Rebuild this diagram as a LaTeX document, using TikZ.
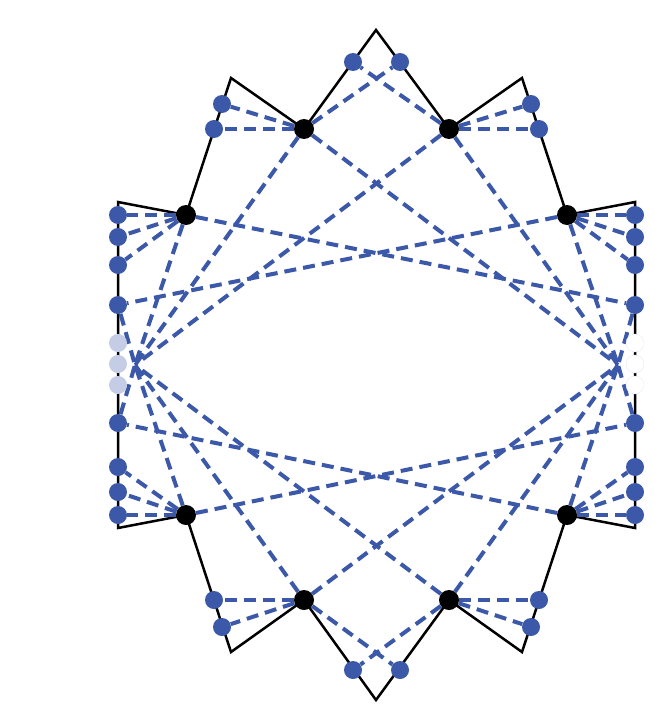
\documentclass[tikz,border=0pt]{standalone}
\usetikzlibrary{backgrounds}
\definecolor{bondblue}{RGB}{60,88,168}

\begin{document}
\begin{tikzpicture}[
        x=1pt, y=-1pt,
        site/.style={circle, fill=bondblue, inner sep=0pt, minimum size=18pt},
        faded/.style={circle, fill=bondblue!30, inner sep=0pt, minimum size=18pt},
        hidden/.style={circle, fill=white, draw=bondblue!12, inner sep=0pt, minimum size=18pt},
        metal/.style={circle, fill=black, inner sep=0pt, minimum size=20pt},
        bond/.style={bondblue, dash pattern=on 12pt off 7pt, line width=4pt},
        frame/.style={black, line width=2.5pt, line join=miter},
    ]
    \useasboundingbox (0,0) rectangle (654,709);

    \coordinate (apT)  at (376,30);
    \coordinate (apB)  at (376,700);
    \coordinate (pkTL) at (231,78);
    \coordinate (pkTR) at (522,78);
    \coordinate (pkBL) at (231,652);
    \coordinate (pkBR) at (522,652);
    \coordinate (cnTL) at (118,202);
    \coordinate (cnTR) at (635,202);
    \coordinate (cnBL) at (118,528);
    \coordinate (cnBR) at (635,528);
    \coordinate (hubL) at (135,365);
    \coordinate (hubR) at (618,365);

    \node[metal] (t1) at (304,129) {};
    \node[metal] (t2) at (449,129) {};
    \node[metal] (u1) at (186,215) {};
    \node[metal] (u2) at (567,215) {};
    \node[metal] (l1) at (186,515) {};
    \node[metal] (l2) at (567,515) {};
    \node[metal] (b1) at (304,600) {};
    \node[metal] (b2) at (449,600) {};

    \node[site] (a1) at (353,62) {};
    \node[site] (a2) at (400,62) {};
    \node[site] (c1) at (353,670) {};
    \node[site] (c2) at (400,670) {};
    \node[site] (p1) at (222,104) {};
    \node[site] (p2) at (214,129) {};
    \node[site] (p3) at (531,104) {};
    \node[site] (p4) at (539,129) {};
    \node[site] (q1) at (214,600) {};
    \node[site] (q2) at (222,627) {};
    \node[site] (q3) at (539,600) {};
    \node[site] (q4) at (531,627) {};

    \node[site] (L1) at (118,215) {};
    \node[site] (L2) at (118,237) {};
    \node[site] (L3) at (118,265) {};
    \node[site] (L4) at (118,305) {};
    \node[faded] (M1) at (118,343) {};
    \node[faded] (M2) at (118,364) {};
    \node[faded] (M3) at (118,385) {};
    \node[site] (L5) at (118,423) {};
    \node[site] (L6) at (118,467) {};
    \node[site] (L7) at (118,492) {};
    \node[site] (L8) at (118,515) {};

    \node[site] (R1) at (635,215) {};
    \node[site] (R2) at (635,237) {};
    \node[site] (R3) at (635,265) {};
    \node[site] (R4) at (635,305) {};
    \node[hidden] (N1) at (635,343) {};
    \node[hidden] (N2) at (635,364) {};
    \node[hidden] (N3) at (635,385) {};
    \node[site] (R5) at (635,423) {};
    \node[site] (R6) at (635,467) {};
    \node[site] (R7) at (635,492) {};
    \node[site] (R8) at (635,515) {};

    \begin{scope}[on background layer]
        \draw[frame] (apT) -- (t1.center) -- (pkTL) -- (u1.center) -- (cnTL)
            -- (cnBL) -- (l1.center) -- (pkBL) -- (b1.center) -- (apB)
            -- (b2.center) -- (pkBR) -- (l2.center) -- (cnBR) -- (cnTR)
            -- (u2.center) -- (pkTR) -- (t2.center) -- cycle;

        \draw[bond] (t1) -- (p1);  \draw[bond] (t1) -- (p2);  \draw[bond] (t1) -- (a2);
        \draw[bond] (t1) -- (hubL); \draw[bond] (t1) -- (hubR);
        \draw[bond] (t2) -- (p3);  \draw[bond] (t2) -- (p4);  \draw[bond] (t2) -- (a1);
        \draw[bond] (t2) -- (hubL); \draw[bond] (t2) -- (hubR);
        \draw[bond] (b1) -- (q1);  \draw[bond] (b1) -- (q2);  \draw[bond] (b1) -- (c2);
        \draw[bond] (b1) -- (hubL); \draw[bond] (b1) -- (hubR);
        \draw[bond] (b2) -- (q3);  \draw[bond] (b2) -- (q4);  \draw[bond] (b2) -- (c1);
        \draw[bond] (b2) -- (hubL); \draw[bond] (b2) -- (hubR);

        \draw[bond] (u1) -- (L1);  \draw[bond] (u1) -- (L2);  \draw[bond] (u1) -- (L3);
        \draw[bond] (u1) -- (hubL); \draw[bond] (u1) -- (R4);
        \draw[bond] (u2) -- (R1);  \draw[bond] (u2) -- (R2);  \draw[bond] (u2) -- (R3);
        \draw[bond] (u2) -- (hubR); \draw[bond] (u2) -- (L4);
        \draw[bond] (l1) -- (L8);  \draw[bond] (l1) -- (L7);  \draw[bond] (l1) -- (L6);
        \draw[bond] (l1) -- (hubL); \draw[bond] (l1) -- (R5);
        \draw[bond] (l2) -- (R8);  \draw[bond] (l2) -- (R7);  \draw[bond] (l2) -- (R6);
        \draw[bond] (l2) -- (hubR); \draw[bond] (l2) -- (L5);

        \draw[bond] (L4) -- (hubL); \draw[bond] (L5) -- (hubL);
        \draw[bond] (R4) -- (hubR); \draw[bond] (R5) -- (hubR);
    \end{scope}
\end{tikzpicture}
\end{document}
